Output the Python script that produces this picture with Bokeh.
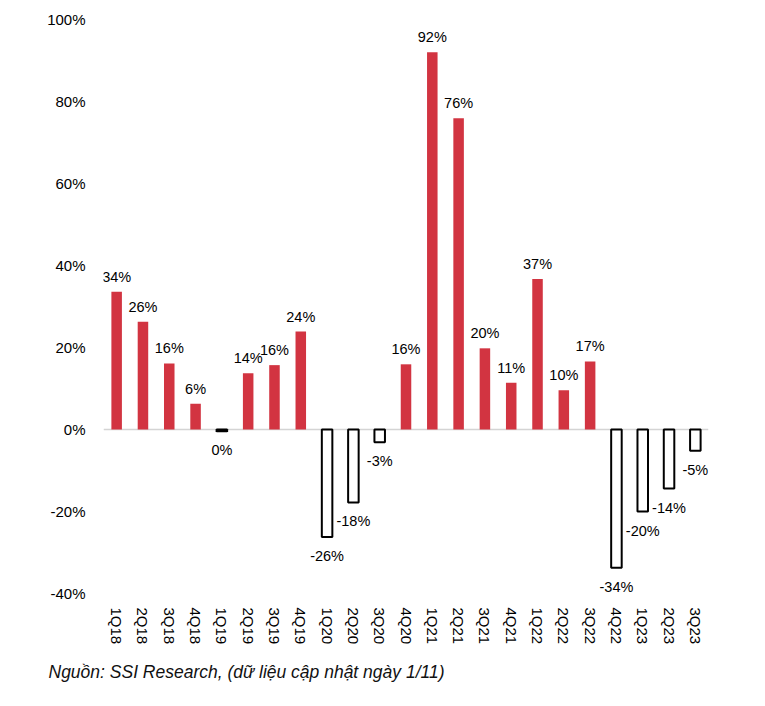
from bokeh.plotting import figure
from bokeh.models import (FactorRange, Range1d, FixedTicker, PrintfTickFormatter, Span,
                          Title, ColumnDataSource)
from bokeh.core.properties import value
from bokeh.embed import file_html
from bokeh.resources import INLINE

quarters = ["1Q18", "2Q18", "3Q18", "4Q18", "1Q19", "2Q19", "3Q19", "4Q19",
            "1Q20", "2Q20", "3Q20", "4Q20", "1Q21", "2Q21", "3Q21", "4Q21",
            "1Q22", "2Q22", "3Q22", "4Q22", "1Q23", "2Q23", "3Q23"]
growth = [33.6, 26.3, 16.1, 6.3, -0.4, 13.7, 15.7, 23.9,
          -26.2, -17.8, -3.1, 15.9, 92.0, 75.9, 19.8, 11.4,
          36.7, 9.6, 16.6, -33.7, -20.0, -14.4, -5.2]
y_ticks = [-40, -20, 0, 20, 40, 60, 80, 100]
footer_text = "Nguồn: SSI Research, (dữ liệu cập nhật ngày 1/11)"

FONT = "Liberation Sans"
RED = "#D23441"
FS = "15px"

pos_x = [q for q, v in zip(quarters, growth) if v >= 0]
pos_v = [v for v in growth if v >= 0]
neg_x = [q for q, v in zip(quarters, growth) if v < 0]
neg_v = [v for v in growth if v < 0]

p = figure(width=749, height=698, output_backend="svg", toolbar_location=None,
           x_range=FactorRange(factors=quarters, range_padding=0),
           y_range=Range1d(-40, 100),
           min_border_left=103, min_border_right=41, min_border_top=19, min_border_bottom=105)
p.outline_line_color = None
p.xgrid.grid_line_color = None
p.ygrid.grid_line_color = None

p.add_layout(Span(location=0, dimension="width", line_color="#d4d4d4", line_width=1.5, level="underlay"))

p.vbar(x=pos_x, top=pos_v, bottom=0, width=0.4, fill_color=RED, line_color=None)
p.vbar(x=neg_x, top=0, bottom=neg_v, width=0.4, fill_color="white", line_color="black", line_width=2)

pos_src = ColumnDataSource(dict(x=pos_x, y=pos_v, t=[f"{int(round(v))}%" for v in pos_v]))
neg_src = ColumnDataSource(dict(x=neg_x, y=neg_v, t=[f"{int(round(v))}%" for v in neg_v]))
p.text(x="x", y="y", text="t", source=pos_src, text_align="center", text_baseline="bottom",
       y_offset=-7, text_font=value(FONT), text_font_size="14.5px", text_color="black")
p.text(x="x", y="y", text="t", source=neg_src, text_align="center", text_baseline="top",
       y_offset=11, text_font=value(FONT), text_font_size="14.5px", text_color="black")

p.yaxis.ticker = FixedTicker(ticks=y_ticks)
p.yaxis.formatter = PrintfTickFormatter(format="%d%%")
for ax in (p.xaxis, p.yaxis):
    ax.axis_line_color = None
    ax.major_tick_line_color = None
    ax.minor_tick_line_color = None
    ax.major_tick_out = 0
    ax.major_tick_in = 0
    ax.major_label_text_font = FONT
    ax.major_label_text_font_size = FS
    ax.major_label_text_color = "black"
p.yaxis.major_label_standoff = 18
p.xaxis.major_label_standoff = 14
p.xaxis.major_label_orientation = "vertical"

p.add_layout(Title(text=footer_text, align="left", offset=-55, standoff=24,
                   vertical_align="bottom",
                   text_font=FONT, text_font_size="17.5px", text_font_style="italic",
                   text_color="#111111"), "below")

open("out.html", "w").write(file_html(p, INLINE))
